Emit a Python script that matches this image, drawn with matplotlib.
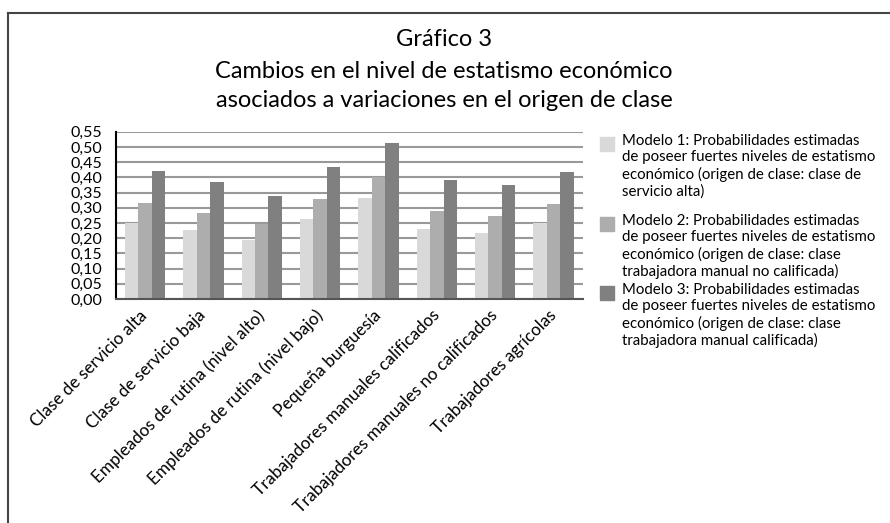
import numpy as np
import matplotlib.pyplot as plt
from matplotlib.lines import Line2D
from matplotlib.patches import Rectangle

categories = [
    "Clase de servicio alta",
    "Clase de servicio baja",
    "Empleados de rutina (nivel alto)",
    "Empleados de rutina (nivel bajo)",
    "Pequeña burguesía",
    "Trabajadores manuales calificados",
    "Trabajadores manuales no calificados",
    "Trabajadores agrícolas",
]
modelo1 = [0.251, 0.227, 0.195, 0.263, 0.332, 0.230, 0.217, 0.250]
modelo2 = [0.316, 0.283, 0.248, 0.329, 0.401, 0.289, 0.273, 0.312]
modelo3 = [0.421, 0.385, 0.339, 0.434, 0.513, 0.391, 0.375, 0.417]

series_labels = [
    "Modelo 1: Probabilidades estimadas\nde poseer fuertes niveles de estatismo\neconómico (origen de clase: clase de\nservicio alta)",
    "Modelo 2: Probabilidades estimadas\nde poseer fuertes niveles de estatismo\neconómico (origen de clase: clase\ntrabajadora manual no calificada)",
    "Modelo 3: Probabilidades estimadas\nde poseer fuertes niveles de estatismo\neconómico (origen de clase: clase\ntrabajadora manual calificada)",
]
colors = ["#d9d9d9", "#adadad", "#808080"]
yticks = np.arange(0, 0.5501, 0.05)

plt.rcParams['font.family'] = ['Lato', 'DejaVu Sans']

fig = plt.figure(figsize=(8.9, 5.23), dpi=100)
ax = fig.add_axes([0.1303, 0.4283, 0.5244, 0.3199])

x = np.arange(len(categories))
w = 0.229
for i, vals in enumerate([modelo1, modelo2, modelo3]):
    ax.bar(x + (i - 1) * w, vals, width=w, color=colors[i], zorder=3)

ax.set_xlim(-0.5, len(categories) - 0.5)
ax.set_ylim(0, 0.55)
ax.set_yticks(yticks)
ax.set_yticklabels([f"{v:.2f}".replace(".", ",") for v in yticks], fontsize=11.5)
ax.set_xticks(x)
ax.set_xticklabels(categories, rotation=45, ha='right', va='center',
                   rotation_mode='anchor', fontsize=12.3)
ax.tick_params(axis='y', length=0, pad=10)
ax.tick_params(axis='x', length=0, pad=10)
ax.grid(axis='y', color='#999999', linewidth=1.5, zorder=0)
for s in ['top', 'right']:
    ax.spines[s].set_visible(False)
ax.spines['left'].set_color('black')
ax.spines['left'].set_linewidth(1.5)
ax.spines['bottom'].set_color('#555555')
ax.spines['bottom'].set_linewidth(1.5)
ax.spines['bottom'].set_zorder(4)

# titulo
tfont = dict(ha='center', va='center', fontsize=17)
fig.text(0.499, 0.924, "Gráfico 3", **tfont)
fig.text(0.499, 0.864, "Cambios en el nivel de estatismo económico", **tfont)
fig.text(0.499, 0.807, "asociados a variaciones en el origen de clase", **tfont)

# leyenda
tops = [136, 216, 285]
for i, lab in enumerate(series_labels):
    y0 = 1 - tops[i] / 523
    fig.patches.append(Rectangle((600 / 890, y0 - 15 / 523), 14 / 890, 14 / 523,
                                 transform=fig.transFigure, color=colors[i]))
    fig.text(622 / 890, y0 + 2 / 523, lab, ha='left', va='top', fontsize=10.8, linespacing=1.2)

# marco
fig.lines.append(Line2D([8 / 890, 1], [1 - 13 / 523, 1 - 13 / 523], transform=fig.transFigure,
                        color='#444444', linewidth=1.5))
fig.lines.append(Line2D([8 / 890, 8 / 890], [0, 1 - 13 / 523], transform=fig.transFigure,
                        color='#444444', linewidth=1.5))

fig.savefig("out.png", dpi=100)
